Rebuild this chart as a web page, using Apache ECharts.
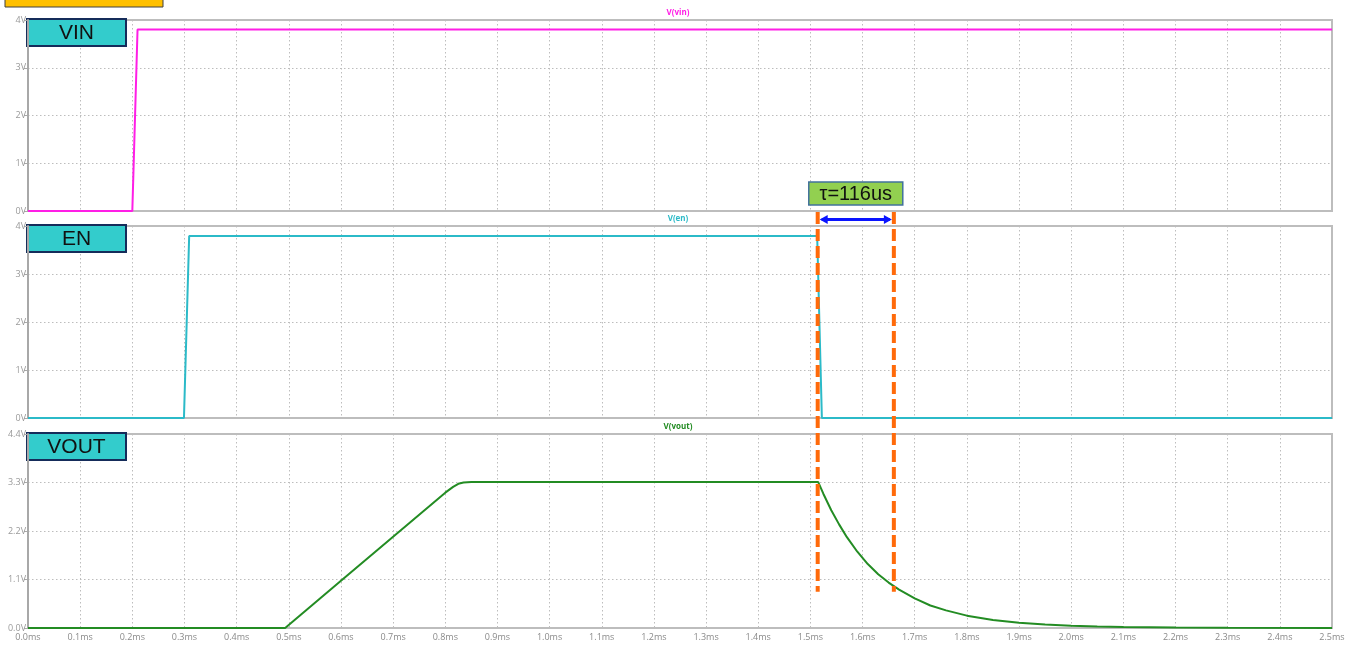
<!DOCTYPE html>
<html>
<head>
<meta charset="utf-8">
<script src="https://cdn.jsdelivr.net/npm/echarts@6/dist/echarts.min.js"></script>
<style>
  html, body { margin: 0; padding: 0; background: #ffffff; }
  #chart { width: 1356px; height: 646px; }
</style>
</head>
<body>
<div id="chart"></div>
<script>
// Time axis ticks (ms)
const timeMin = 0;
const timeMax = 2.5;
const timeStep = 0.1;

// V(vin): supply ramp at 0.2 ms
const vinTime = [0, 0.2, 0.21, 2.5];
const vinVolt = [0, 0, 3.8, 3.8];

// V(en): enable high from ~0.3 ms to ~1.515 ms
const enTime = [0, 0.299, 0.309, 1.513, 1.522, 2.5];
const enVolt = [0, 0, 3.79, 3.79, 0, 0];

// V(vout): soft-start ramp, regulation, then RC discharge after EN falls
const voutTime = [0, 0.493, 0.6, 0.7, 0.8, 0.815, 0.825, 0.835, 0.85, 1.515,
  1.525, 1.54, 1.555, 1.57, 1.59, 1.61, 1.63, 1.65, 1.67, 1.7, 1.73, 1.76,
  1.8, 1.85, 1.9, 1.95, 2.0, 2.05, 2.1, 2.2, 2.3, 2.5];
const voutVolt = [0, 0, 1.07, 2.07, 3.07, 3.2, 3.27, 3.3, 3.31, 3.31,
  3.04, 2.67, 2.35, 2.06, 1.73, 1.45, 1.22, 1.03, 0.87, 0.67, 0.51, 0.4,
  0.28, 0.18, 0.12, 0.078, 0.05, 0.032, 0.02, 0.01, 0.004, 0];

// Annotation: discharge time-constant markers (ms)
const tauMarks = [1.514, 1.66];
const tauText = 'τ=116us';

// Panel tags and trace names
const panelTags = ['VIN', 'EN', 'VOUT'];
const traceNames = ['V(vin)', 'V(en)', 'V(vout)'];
const traceColors = ['#ff1ee6', '#2bbac8', '#238c23'];

const zip = (xs, ys) => xs.map((x, i) => [x, ys[i]]);

const gridTops = [20, 226, 434];
const gridHeights = [191, 192, 194];
const gridLeft = 28;
const gridRight = 24;

const splitStyle = { show: true, lineStyle: { color: '#bdbdbd', type: [1.5, 2.5], width: 1 } };

function makeX(idx, showLabels) {
  return {
    type: 'value', gridIndex: idx, min: timeMin, max: timeMax, interval: timeStep,
    axisLine: { show: false },
    axisTick: { show: false },
    axisLabel: {
      show: showLabels, color: '#8a8a8a', fontSize: 9, margin: 5,
      fontFamily: 'Open Sans',
      formatter: v => v.toFixed(1) + 'ms'
    },
    splitLine: splitStyle
  };
}

function makeY(idx, max, interval, digits) {
  return {
    type: 'value', gridIndex: idx, min: 0, max: max, interval: interval,
    axisLine: { show: true, onZero: false, lineStyle: { color: '#a8a8a8', width: 2 } },
    axisTick: { show: true, length: 4, lineStyle: { color: '#a8a8a8', width: 1 } },
    axisLabel: {
      color: '#9a9a9a', fontSize: 9, margin: 2, fontFamily: 'Open Sans',
      formatter: v => (digits ? v.toFixed(digits) : Math.round(v)) + 'V'
    },
    splitLine: splitStyle
  };
}

const chart = echarts.init(document.getElementById('chart'), null, { renderer: 'canvas' });

const option = {
  animation: false,
  backgroundColor: '#ffffff',
  title: traceNames.map((name, i) => ({
    text: name,
    left: 'center',
    top: gridTops[i] - 16,
    textStyle: { color: traceColors[i], fontSize: 8, fontWeight: 'bold', fontFamily: 'Open Sans' }
  })),
  grid: gridTops.map((t, i) => ({
    left: gridLeft, right: gridRight, top: t, height: gridHeights[i],
    show: true, borderColor: '#bdbdbd', borderWidth: 2, backgroundColor: 'transparent'
  })),
  xAxis: [makeX(0, false), makeX(1, false), makeX(2, true)],
  yAxis: [makeY(0, 4, 1, 0), makeY(1, 4, 1, 0), makeY(2, 4.4, 1.1, 1)],
  series: [
    { name: traceNames[0], type: 'line', xAxisIndex: 0, yAxisIndex: 0, data: zip(vinTime, vinVolt),
      showSymbol: false, lineStyle: { color: traceColors[0], width: 2 }, z: 5 },
    { name: traceNames[1], type: 'line', xAxisIndex: 1, yAxisIndex: 1, data: zip(enTime, enVolt),
      showSymbol: false, lineStyle: { color: traceColors[1], width: 2 }, z: 5 },
    { name: traceNames[2], type: 'line', xAxisIndex: 2, yAxisIndex: 2, data: zip(voutTime, voutVolt),
      showSymbol: false, lineStyle: { color: traceColors[2], width: 2 }, z: 5 }
  ]
};

chart.setOption(option);

// Overlay: panel tags, discharge markers, arrow and tau label
const px = v => chart.convertToPixel({ xAxisIndex: 0 }, v);
const py = (axis, v) => chart.convertToPixel({ yAxisIndex: axis }, v);

const x1 = px(tauMarks[0]);
const x2 = px(tauMarks[1]);
const markTop = py(0, 0) + 1;
const markBottom = py(2, 0.82);
const arrowY = (py(0, 0) + py(1, 4)) / 2 + 1;
const orange = '#ff6a0a';
const blue = '#0a14ff';

const graphics = [];

// small header box
graphics.push({
  type: 'rect', shape: { x: 5, y: -3, width: 158, height: 10 },
  style: { fill: '#ffc000', stroke: '#404040', lineWidth: 1 }, z: 20
});

panelTags.forEach((tag, i) => {
  const top = gridTops[i] - 1;
  graphics.push({
    type: 'group', z: 20,
    children: [
      { type: 'rect', shape: { x: 27, y: top, width: 99, height: 27 },
        style: { fill: '#33cccc', stroke: '#152c5a', lineWidth: 2 } },
      { type: 'text', x: 76.5, y: top + 14,
        style: { text: tag, fill: '#111111', fontSize: 21, fontFamily: 'Liberation Sans',
          align: 'center', verticalAlign: 'middle' } }
    ]
  });
});

[x1, x2].forEach(x => {
  graphics.push({
    type: 'line', z: 30,
    shape: { x1: x, y1: markTop, x2: x, y2: markBottom },
    style: { stroke: orange, lineWidth: 4, lineDash: [12, 5] }
  });
});

// double-headed arrow between markers
const ah = 8, aw = 4.5;
graphics.push({
  type: 'line', z: 31,
  shape: { x1: x1 + 4, y1: arrowY, x2: x2 - 4, y2: arrowY },
  style: { stroke: blue, lineWidth: 3 }
});
graphics.push({
  type: 'polygon', z: 31,
  shape: { points: [[x1 + 2, arrowY], [x1 + 2 + ah, arrowY - aw], [x1 + 2 + ah, arrowY + aw]] },
  style: { fill: blue }
});
graphics.push({
  type: 'polygon', z: 31,
  shape: { points: [[x2 - 2, arrowY], [x2 - 2 - ah, arrowY - aw], [x2 - 2 - ah, arrowY + aw]] },
  style: { fill: blue }
});

// tau label
const cx = (x1 + x2) / 2;
graphics.push({
  type: 'group', z: 32,
  children: [
    { type: 'rect', shape: { x: cx - 47, y: 182, width: 94, height: 23 },
      style: { fill: '#92d050', stroke: '#41719c', lineWidth: 1.5 } },
    { type: 'text', x: cx, y: 194,
      style: { text: tauText, fill: '#111111', fontSize: 20, fontFamily: 'Liberation Sans',
        align: 'center', verticalAlign: 'middle' } }
  ]
});

chart.setOption({ graphic: graphics });
</script>
</body>
</html>
